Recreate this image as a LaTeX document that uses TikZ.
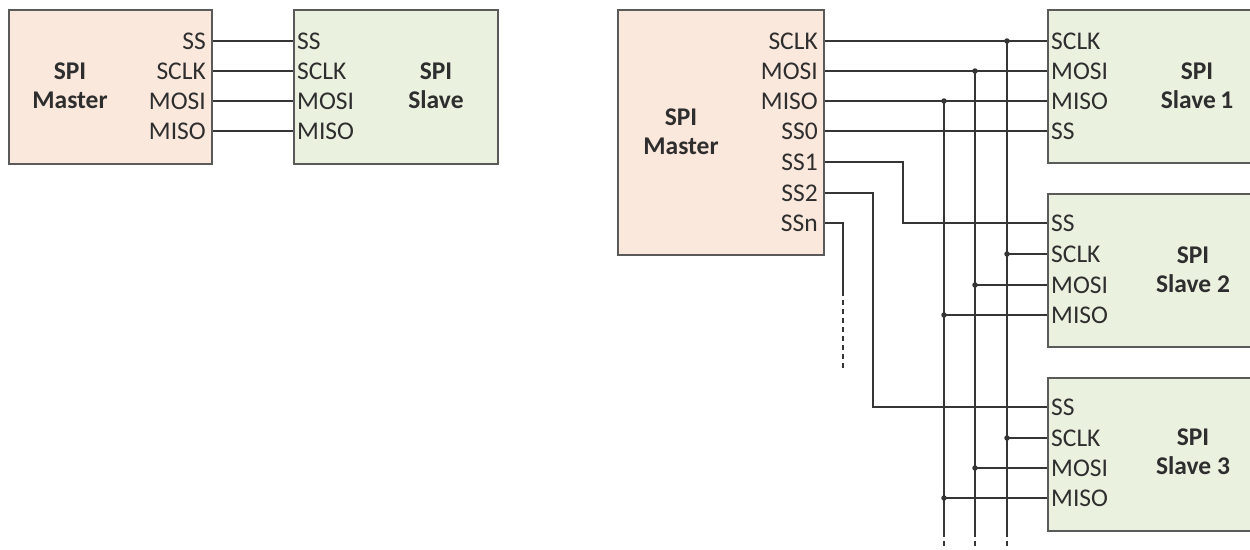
\documentclass[tikz,border=0pt]{standalone}
\usepackage{fontspec}
\setmainfont{Carlito}
\definecolor{mfill}{HTML}{FBE8DC}
\definecolor{sfill}{HTML}{EBF1DF}
\definecolor{boxc}{HTML}{5A5A5A}
\definecolor{wirec}{HTML}{353535}
\definecolor{txtc}{HTML}{2E2E2E}
\newcommand{\pinfont}{\fontsize{25.5}{29}\selectfont}
\tikzset{
  box/.style={draw=boxc, line width=1.8pt, rectangle, inner sep=0pt, anchor=north west},
  masterbox/.style={box, fill=mfill},
  slavebox/.style={box, fill=sfill},
  pinl/.style={anchor=east, inner sep=0pt, font=\pinfont, text=txtc},
  pinr/.style={anchor=west, inner sep=0pt, font=\pinfont, text=txtc},
  title/.style={align=center, inner sep=0pt, font=\pinfont\bfseries, text=txtc},
  wire/.style={draw=wirec, line width=1.8pt},
  dwire/.style={wire, dash pattern=on 5pt off 4pt},
  dot/.style={circle, fill=wirec, inner sep=0pt, minimum size=5.5pt}
}
\begin{document}
\begin{tikzpicture}[x=1pt, y=-1pt]
\useasboundingbox (0,0) rectangle (1250,549);

% ---------- boxes ----------
\node[masterbox, minimum width=203pt, minimum height=154pt] (lm) at (8,9) {};
\node[slavebox, minimum width=204pt, minimum height=154pt] (ls) at (293,9) {};
\node[masterbox, minimum width=206pt, minimum height=245pt] (rm) at (617,9) {};
\node[slavebox, minimum width=230pt, minimum height=153pt] (s1) at (1047,9) {};
\node[slavebox, minimum width=230pt, minimum height=153pt] (s2) at (1047,193) {};
\node[slavebox, minimum width=230pt, minimum height=153pt] (s3) at (1047,377) {};

% ---------- left diagram ----------
\node[title] (lmt) at (70,86) {SPI\\Master};
\node[title] (lst) at (436,86) {SPI\\Slave};
\node[pinl] (lmss)   at (206,41)  {SS};
\node[pinl] (lmsclk) at (206,71)  {SCLK};
\node[pinl] (lmmosi) at (206,101) {MOSI};
\node[pinl] (lmmiso) at (206,131) {MISO};
\node[pinr] (lsss)   at (297,41)  {SS};
\node[pinr] (lssclk) at (297,71)  {SCLK};
\node[pinr] (lsmosi) at (297,101) {MOSI};
\node[pinr] (lsmiso) at (297,131) {MISO};
\draw[wire] (lm.east |- lmss)   -- (ls.west |- lsss);
\draw[wire] (lm.east |- lmsclk) -- (ls.west |- lssclk);
\draw[wire] (lm.east |- lmmosi) -- (ls.west |- lsmosi);
\draw[wire] (lm.east |- lmmiso) -- (ls.west |- lsmiso);

% ---------- right diagram ----------
\node[pinl] (rsclk) at (818,41)  {SCLK};
\node[pinl] (rmosi) at (818,71)  {MOSI};
\node[pinl] (rmiso) at (818,101) {MISO};
\node[pinl] (rss0)  at (818,131) {SS0};
\node[pinl] (rss1)  at (818,162) {SS1};
\node[pinl] (rss2)  at (818,193) {SS2};
\node[pinl] (rssn)  at (818,223) {SSn};
\node[title] (rmt) at (681,132) {SPI\\Master};

% slave 1 pins
\node[pinr] (a1) at (1051,41)  {SCLK};
\node[pinr] (a2) at (1051,71)  {MOSI};
\node[pinr] (a3) at (1051,101) {MISO};
\node[pinr] (a4) at (1051,131) {SS};
\node[title] (s1t) at (1197,86) {SPI\\Slave\,1};
% slave 2 pins
\node[pinr] (b1) at (1051,223) {SS};
\node[pinr] (b2) at (1051,254) {SCLK};
\node[pinr] (b3) at (1051,285) {MOSI};
\node[pinr] (b4) at (1051,315) {MISO};
\node[title] (s2t) at (1193,270) {SPI\\Slave 2};
% slave 3 pins
\node[pinr] (c1) at (1051,407) {SS};
\node[pinr] (c2) at (1051,438) {SCLK};
\node[pinr] (c3) at (1051,468) {MOSI};
\node[pinr] (c4) at (1051,498) {MISO};
\node[title] (s3t) at (1193,452) {SPI\\Slave 3};

% bus columns
\coordinate (xck) at (1007,0);
\coordinate (xmo) at (975,0);
\coordinate (xmi) at (944,0);

% master -> slave 1
\draw[wire] (rm.east |- rsclk) -- (s1.west |- a1);
\draw[wire] (rm.east |- rmosi) -- (s1.west |- a2);
\draw[wire] (rm.east |- rmiso) -- (s1.west |- a3);
\draw[wire] (rm.east |- rss0)  -- (s1.west |- a4);

% select lines
\coordinate (k1) at (903,0);
\coordinate (k2) at (873,0);
\draw[wire] (rm.east |- rss1) -| (k1 |- b1) -- (s2.west |- b1);
\draw[wire] (rm.east |- rss2) -| (k2 |- c1) -- (s3.west |- c1);
\coordinate (kn1) at (843,291);
\coordinate (kn2) at (843,368);
\draw[wire] (rm.east |- rssn) -| (kn1);
\draw[dwire] (kn1) -- (kn2);

% bus verticals
\coordinate (ck0) at (1007,41);
\coordinate (mo0) at (975,71);
\coordinate (mi0) at (944,101);
\coordinate (ck1) at (1007,532);
\coordinate (mo1) at (975,532);
\coordinate (mi1) at (944,532);
\coordinate (ck2) at (1007,549);
\coordinate (mo2) at (975,549);
\coordinate (mi2) at (944,549);
\draw[wire] (ck0) -- (ck1);
\draw[wire] (mo0) -- (mo1);
\draw[wire] (mi0) -- (mi1);
\draw[dwire] (ck1) -- (ck2);
\draw[dwire] (mo1) -- (mo2);
\draw[dwire] (mi1) -- (mi2);

% taps to slaves 2 and 3
\draw[wire] (xck |- b2) -- (s2.west |- b2);
\draw[wire] (xmo |- b3) -- (s2.west |- b3);
\draw[wire] (xmi |- b4) -- (s2.west |- b4);
\draw[wire] (xck |- c2) -- (s3.west |- c2);
\draw[wire] (xmo |- c3) -- (s3.west |- c3);
\draw[wire] (xmi |- c4) -- (s3.west |- c4);

% junction dots
\node[dot] (d1) at (ck0) {};
\node[dot] (d2) at (mo0) {};
\node[dot] (d3) at (mi0) {};
\node[dot] (d4) at (xck |- b2) {};
\node[dot] (d5) at (xmo |- b3) {};
\node[dot] (d6) at (xmi |- b4) {};
\node[dot] (d7) at (xck |- c2) {};
\node[dot] (d8) at (xmo |- c3) {};
\node[dot] (d9) at (xmi |- c4) {};
\end{tikzpicture}
\end{document}
